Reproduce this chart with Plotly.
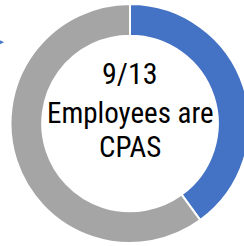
import plotly.graph_objects as go

labels = ["CPAs", "Other"]
values = [40, 60]
colors = ["#4472C4", "#A5A5A5"]
center_lines = ["9/13", "Employees are", "CPAS"]
line_y = [0.71, 0.546, 0.40]
line_size = [30, 29, 29]

fig = go.Figure(go.Pie(
    labels=labels, values=values, hole=0.735, sort=False,
    direction="clockwise", rotation=0, textinfo="none", hoverinfo="label+value",
    marker=dict(colors=colors, line=dict(color="white", width=2)),
    showlegend=False,
))

for txt, yy, sz in zip(center_lines, line_y, line_size):
    fig.add_annotation(text=txt, x=0.5, y=yy, xref="paper", yref="paper",
                       showarrow=False, xanchor="center", yanchor="middle",
                       font=dict(family="Roboto Condensed, sans-serif", size=sz, color="black"))

fig.add_annotation(x=-0.025, y=(243.5 - 42) / 240, xref="paper", yref="paper", text="",
                   showarrow=True, ax=-30, ay=0, arrowhead=2, arrowsize=0.8, arrowwidth=1.3,
                   arrowcolor="#4A7CC8")

fig.update_layout(width=250, height=246, margin=dict(l=10, r=0, t=3.5, b=2.5),
                  paper_bgcolor="white", plot_bgcolor="white")

fig.write_html("out.html", config={"displayModeBar": False},
               post_script="document.body.style.margin='0';document.body.style.overflow='hidden';")
